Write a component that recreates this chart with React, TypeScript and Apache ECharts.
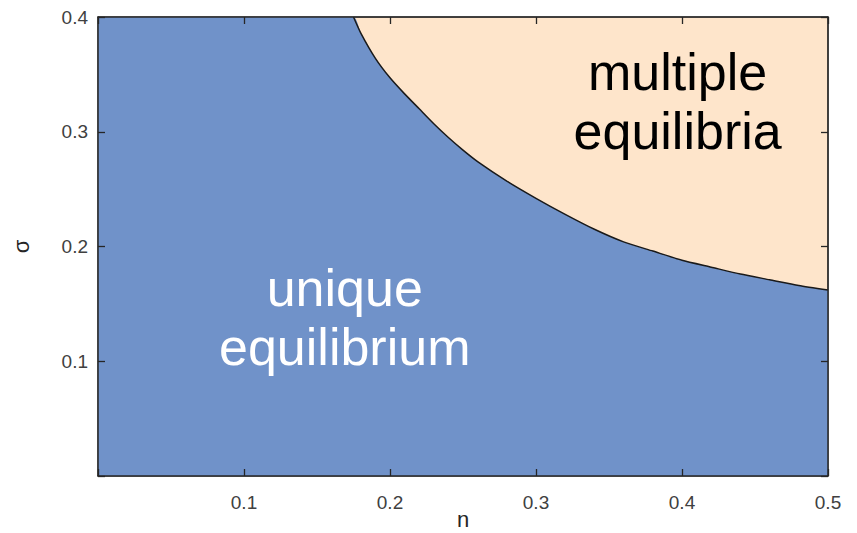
import React, { useEffect, useRef } from "react";
import * as echarts from "echarts";

// Boundary between unique and multiple equilibria
const nValues = [0.175, 0.18, 0.19, 0.2, 0.21, 0.22, 0.23, 0.24, 0.25, 0.26, 0.28, 0.3, 0.32, 0.34, 0.36, 0.38, 0.4, 0.42, 0.44, 0.46, 0.48, 0.5];
const sigmaValues = [0.4, 0.386, 0.364, 0.347, 0.333, 0.32, 0.307, 0.295, 0.284, 0.274, 0.257, 0.242, 0.228, 0.215, 0.204, 0.196, 0.188, 0.182, 0.176, 0.171, 0.166, 0.162];

const xTickLabels = ["0.1", "0.2", "0.3", "0.4", "0.5"];
const yTickLabels = ["0.1", "0.2", "0.3", "0.4"];

const regionLabels = [
  { text: "multiple\nequilibria", n: 0.397, sigma: 0.326, color: "#000000" },
  { text: "unique\nequilibrium", n: 0.169, sigma: 0.138, color: "#ffffff" },
];

const BLUE = "#7092C9";
const PEACH = "#FEE5CB";
const AXIS = "#262626";

export default function App() {
  const ref = useRef<HTMLDivElement>(null);
  useEffect(() => {
    if (!ref.current) return;
    const chart = echarts.init(ref.current, null, { renderer: "svg" });
    const boundary = nValues.map((n, i) => [n, sigmaValues[i]]);
    const area = [[0, 0.4], ...boundary];
    const fmtX = (v: number) => {
      const s = v.toFixed(1);
      return xTickLabels.includes(s) ? s : "";
    };
    const fmtY = (v: number) => {
      const s = v.toFixed(1);
      return yTickLabels.includes(s) ? s : "";
    };
    const mkTick = () => ({ show: true, inside: true, length: 7, lineStyle: { color: AXIS, width: 1.3 } });
    const mkLine = () => ({ show: true, onZero: false, lineStyle: { color: AXIS, width: 1.5 } });
    const labelFont = { fontFamily: "Liberation Sans, Arial, sans-serif" };
    chart.setOption({
      animation: false,
      backgroundColor: "#ffffff",
      grid: {
        left: 98,
        right: 29,
        top: 17,
        bottom: 57,
        show: true,
        backgroundColor: PEACH,
        borderColor: AXIS,
        borderWidth: 1,
        containLabel: false,
        outerBoundsMode: "none",
      },
      xAxis: [
        {
          type: "value",
          position: "bottom",
          min: 0,
          max: 0.5,
          interval: 0.1,
          name: "n",
          nameLocation: "middle",
          nameGap: 32,
          nameMoveOverlap: false,
          nameTextStyle: { fontSize: 22, color: AXIS, ...labelFont },
          axisLine: mkLine(),
          axisTick: mkTick(),
          axisLabel: { formatter: fmtX, fontSize: 19, color: "#404040", margin: 17, ...labelFont },
          splitLine: { show: false },
          zlevel: 1,
          z: 10,
        },
        {
          type: "value",
          position: "top",
          min: 0,
          max: 0.5,
          interval: 0.1,
          axisLine: mkLine(),
          axisTick: mkTick(),
          axisLabel: { show: false },
          splitLine: { show: false },
          zlevel: 1,
          z: 10,
        },
      ],
      yAxis: [
        {
          type: "value",
          position: "left",
          min: 0,
          max: 0.4,
          interval: 0.1,
          name: "σ",
          nameLocation: "middle",
          nameRotate: 90,
          nameGap: 66,
          nameMoveOverlap: false,
          nameTextStyle: { fontSize: 22, color: AXIS, ...labelFont },
          axisLine: mkLine(),
          axisTick: mkTick(),
          axisLabel: { formatter: fmtY, fontSize: 19, color: "#404040", margin: 10, ...labelFont },
          splitLine: { show: false },
          zlevel: 1,
          z: 10,
        },
        {
          type: "value",
          position: "right",
          min: 0,
          max: 0.4,
          interval: 0.1,
          axisLine: mkLine(),
          axisTick: mkTick(),
          axisLabel: { show: false },
          splitLine: { show: false },
          zlevel: 1,
          z: 10,
        },
      ],
      series: [
        {
          type: "line",
          data: area,
          showSymbol: false,
          symbol: "none",
          smooth: 0.2,
          lineStyle: { width: 0, color: BLUE },
          areaStyle: { color: BLUE, opacity: 1, origin: "start" },
          silent: true,
          z: 1,
        },
        {
          type: "line",
          data: boundary,
          showSymbol: false,
          symbol: "none",
          smooth: 0.2,
          lineStyle: { width: 1.5, color: "#1a1a1a" },
          silent: true,
          z: 2,
        },
        {
          type: "scatter",
          symbolSize: 0,
          silent: true,
          z: 3,
          itemStyle: { opacity: 1 },
          data: regionLabels.map((r) => ({
            value: [r.n, r.sigma],
            itemStyle: { opacity: 1 },
            label: {
              show: true,
              position: "inside",
              formatter: r.text,
              color: r.color,
              opacity: 1,
              fontSize: 52,
              lineHeight: 59,
              align: "center",
              verticalAlign: "middle",
              ...labelFont,
            },
          })),
        },
      ],
    });
    return () => chart.dispose();
  }, []);
  return <div ref={ref} style={{ width: 857, height: 533, position: "absolute", left: 0, top: 0 }} />;
}
